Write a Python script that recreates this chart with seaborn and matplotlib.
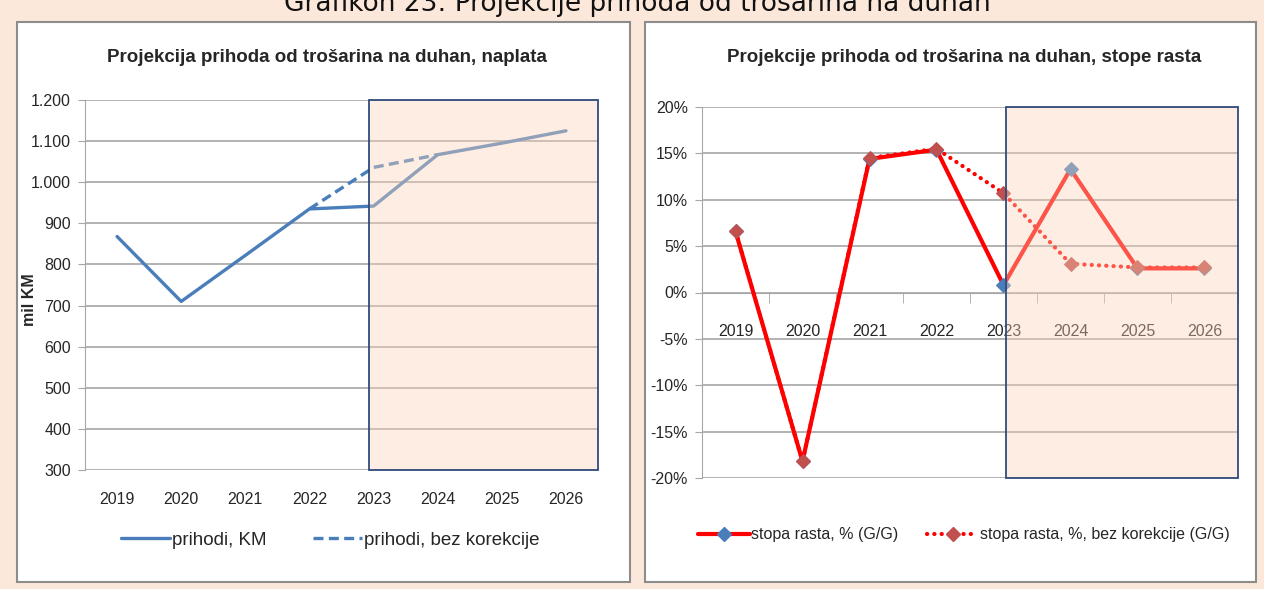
import matplotlib
matplotlib.use("Agg")
import matplotlib.pyplot as plt
from matplotlib.patches import Rectangle
from matplotlib.lines import Line2D
from matplotlib.ticker import FuncFormatter, FixedLocator
import pandas as pd
import seaborn as sns

years = ["2019", "2020", "2021", "2022", "2023", "2024", "2025", "2026"]

# left panel: revenues, mil KM
prihodi_km = [868, 710, 822, 935, 942, 1067, 1095, 1125]
prihodi_bez_kor_years = ["2022", "2023", "2024"]
prihodi_bez_kor = [935, 1036, 1067]

# right panel: growth rates, %
stopa_rasta = [6.6, -18.2, 14.4, 15.4, 0.8, 13.3, 2.6, 2.6]
stopa_bez_kor = [6.6, -18.2, 14.5, 15.5, 10.7, 3.1, 2.7, 2.7]

sup_title = "Grafikon 23: Projekcije prihoda od trošarina na duhan"
title_left = "Projekcija prihoda od trošarina na duhan, naplata"
title_right = "Projekcije prihoda od trošarina na duhan, stope rasta"

sns.set_style("white")
plt.rcParams["font.family"] = ["Liberation Sans", "DejaVu Sans"]

PAGE = "#FCE8DA"
BLUE = "#4A7EBB"
RED = "#FF0000"
DARKRED = "#C0504D"
GRID = "#A6A6A6"
BOX_FILL = (0.98, 0.83, 0.72, 0.4)
BOX_EDGE = "#2F4B7C"
FS = 11.5
DOTS = (0, (0.05, 1.7))

pos = {y: i for i, y in enumerate(years)}
df_left = pd.DataFrame({"x": [pos[y] for y in years], "v": prihodi_km})
df_left_d = pd.DataFrame({"x": [pos[y] for y in prihodi_bez_kor_years], "v": prihodi_bez_kor})
df_right = pd.DataFrame({"x": [pos[y] for y in years], "a": stopa_rasta, "b": stopa_bez_kor})

fig = plt.figure(figsize=(12.64, 5.89), dpi=100, facecolor=PAGE)

# heading is partly cut by the top edge, as in the original page crop
fig.text(0.504, 1 - 11 / 589, sup_title, ha="center", va="baseline",
         fontsize=19, family=["DejaVu Sans"], color="#111111")

# white panel frames
for x0, x1 in [(17, 630), (645, 1256)]:
    fig.patches.append(Rectangle((x0 / 1264, 7 / 589), (x1 - x0) / 1264, 560 / 589,
                                 transform=fig.transFigure, facecolor="white",
                                 edgecolor="#8C8C8C", linewidth=1.5, zorder=-1))

# ---------- left panel ----------
ax1 = fig.add_axes([85 / 1264, 1 - 470 / 589, 513 / 1264, 370 / 589])
ax1.set_facecolor("none")
sns.lineplot(data=df_left, x="x", y="v", ax=ax1, color=BLUE, linewidth=2.4, zorder=3)
sns.lineplot(data=df_left_d, x="x", y="v", ax=ax1, color=BLUE, linewidth=2.4,
             linestyle=(0, (3, 1.6)), zorder=3)
ax1.set_xlim(-0.5, 7.5)
ax1.set_ylim(300, 1200)
ax1.yaxis.set_major_locator(FixedLocator(range(300, 1201, 100)))
ax1.yaxis.set_major_formatter(FuncFormatter(lambda v, p: f"{int(v):,}".replace(",", ".")))
ax1.set_xticks(range(len(years)))
ax1.set_xticklabels(years)
ax1.grid(axis="y", color=GRID, linewidth=1.2)
for s in ["top", "right", "bottom"]:
    ax1.spines[s].set_visible(False)
ax1.spines["left"].set_color(GRID)
ax1.tick_params(axis="y", left=True, length=5, color=GRID, labelsize=FS, pad=5)
ax1.tick_params(axis="x", bottom=False, labelsize=FS, pad=12)
ax1.set_xlabel("")
ax1.set_ylabel("mil KM", fontsize=11.5, fontweight="bold")
ax1.yaxis.set_label_coords(-0.093, 0.46)
ax1.add_patch(Rectangle((3.93, 300), 7.5 - 3.93, 900, facecolor=BOX_FILL,
                        edgecolor=BOX_EDGE, linewidth=1.3, zorder=5, clip_on=False))
fig.text(327 / 1264, 1 - 57 / 589, title_left, ha="center", va="center",
         fontsize=13.5, fontweight="bold")
h1 = [Line2D([], [], color=BLUE, linewidth=2.4),
      Line2D([], [], color=BLUE, linewidth=2.4, linestyle=(0, (3, 1.6)))]
fig.legend(h1, ["prihodi, KM", "prihodi, bez korekcije"], loc="center",
           bbox_to_anchor=(330 / 1264, 1 - 540 / 589), ncol=2, frameon=False,
           fontsize=13.5, handlelength=2.6, handletextpad=0.1, columnspacing=2.5)

# ---------- right panel ----------
ax2 = fig.add_axes([702 / 1264, 1 - 478 / 589, 536 / 1264, 371 / 589])
ax2.set_facecolor("none")
sns.lineplot(data=df_right, x="x", y="a", ax=ax2, color=RED, linewidth=3.0,
             marker="D", markersize=7, markerfacecolor=BLUE, markeredgecolor=BLUE, zorder=3)
sns.lineplot(data=df_right, x="x", y="b", ax=ax2, color=RED, linewidth=3.0,
             linestyle=DOTS, dash_capstyle="round", marker="D", markersize=7,
             markerfacecolor=DARKRED, markeredgecolor=DARKRED, zorder=3.5)
ax2.set_xlim(-0.5, 7.5)
ax2.set_ylim(-20, 20)
ax2.yaxis.set_major_locator(FixedLocator(range(-20, 21, 5)))
ax2.yaxis.set_major_formatter(FuncFormatter(lambda v, p: f"{int(v)}%"))
ax2.set_xticks(range(len(years)))
ax2.set_xticklabels(years)
ax2.xaxis.set_minor_locator(FixedLocator([i + 0.5 for i in range(len(years))]))
ax2.grid(axis="y", color=GRID, linewidth=1.2)
for s in ["top", "right"]:
    ax2.spines[s].set_visible(False)
ax2.spines["bottom"].set_position(("data", 0))
ax2.spines["bottom"].set_color(GRID)
ax2.spines["left"].set_color(GRID)
ax2.tick_params(axis="y", left=True, length=5, color=GRID, labelsize=FS, pad=5)
ax2.tick_params(axis="x", which="major", bottom=False, labelsize=FS, pad=19)
ax2.tick_params(axis="x", which="minor", bottom=True, length=7, color=GRID)
ax2.set_xlabel("")
ax2.set_ylabel("")
ax2.add_patch(Rectangle((4.03, -20), 7.5 - 4.03, 40, facecolor=BOX_FILL,
                        edgecolor=BOX_EDGE, linewidth=1.3, zorder=5, clip_on=False))
fig.text(964 / 1264, 1 - 57 / 589, title_right, ha="center", va="center",
         fontsize=13.5, fontweight="bold")
h2 = [Line2D([], [], color=RED, linewidth=3.0, marker="D", markersize=7,
             markerfacecolor=BLUE, markeredgecolor=BLUE),
      Line2D([], [], color=RED, linewidth=3.0, linestyle=DOTS, dash_capstyle="round",
             marker="D", markersize=7, markerfacecolor=DARKRED, markeredgecolor=DARKRED)]
fig.legend(h2, ["stopa rasta, % (G/G)", "stopa rasta, %, bez korekcije (G/G)"],
           loc="center", bbox_to_anchor=(964 / 1264, 1 - 535 / 589), ncol=2,
           frameon=False, fontsize=FS, handlelength=3.2, handletextpad=0.1,
           columnspacing=1.8)

fig.savefig("out.png", dpi=100, facecolor=PAGE)
